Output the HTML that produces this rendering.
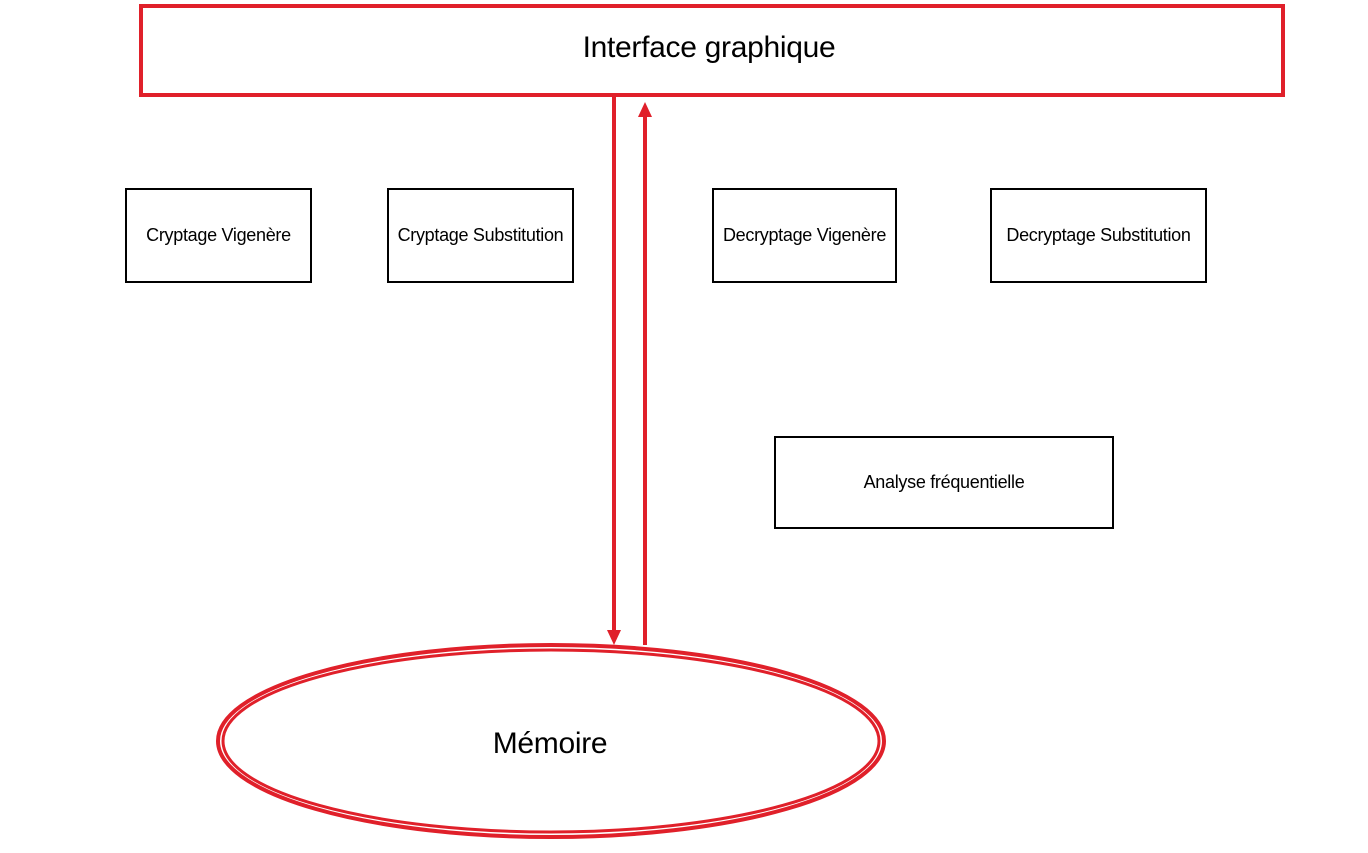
<!DOCTYPE html>
<html><head><style>
body{margin:0;width:1368px;height:853px;background:#fff;overflow:hidden;position:relative;font-family:"Liberation Sans",sans-serif}
.b{position:absolute;border:2px solid #000;box-sizing:border-box;display:flex;align-items:center;justify-content:center;font-size:18px;color:#000;white-space:nowrap;letter-spacing:-0.3px}
</style></head><body>
<svg width="1368" height="853" style="position:absolute;left:0;top:0">
<rect x="141" y="6" width="1142" height="89" fill="none" stroke="#e0202a" stroke-width="4"/>
<line x1="614" y1="96" x2="614" y2="632" stroke="#e0202a" stroke-width="4"/>
<polygon points="607,630 621,630 614,645" fill="#e0202a"/>
<line x1="645" y1="115" x2="645" y2="645" stroke="#e0202a" stroke-width="4"/>
<polygon points="638,117 652,117 645,102" fill="#e0202a"/>
<ellipse cx="551" cy="741" rx="333" ry="96" fill="none" stroke="#e0202a" stroke-width="4"/>
<ellipse cx="551" cy="741" rx="328" ry="91" fill="none" stroke="#e0202a" stroke-width="3"/>
<text x="709" y="57" font-size="30" text-anchor="middle" font-family="Liberation Sans" letter-spacing="-0.3">Interface graphique</text>
<text x="550" y="753" font-size="30" text-anchor="middle" font-family="Liberation Sans" letter-spacing="-0.3">Mémoire</text>
</svg>
<div class="b" style="left:125px;top:188px;width:187px;height:95px">Cryptage Vigenère</div>
<div class="b" style="left:387px;top:188px;width:187px;height:95px">Cryptage Substitution</div>
<div class="b" style="left:712px;top:188px;width:185px;height:95px">Decryptage Vigenère</div>
<div class="b" style="left:990px;top:188px;width:217px;height:95px">Decryptage Substitution</div>
<div class="b" style="left:774px;top:436px;width:340px;height:93px">Analyse fréquentielle</div>
</body></html>
